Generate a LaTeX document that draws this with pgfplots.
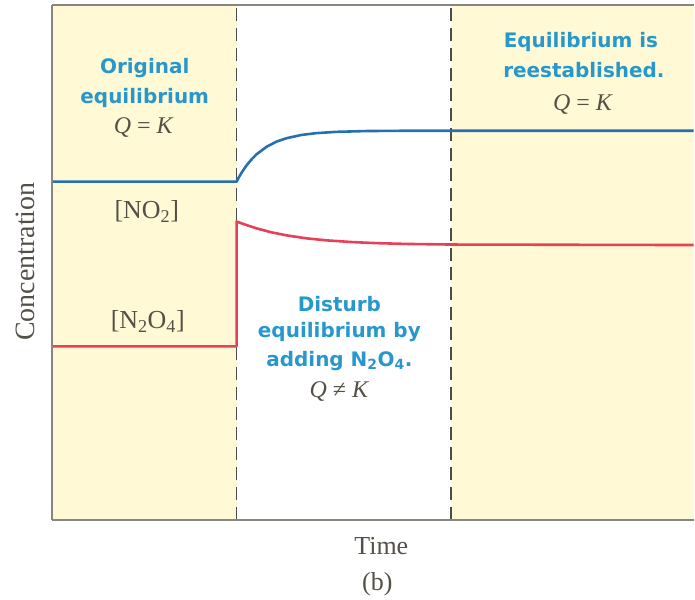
\documentclass[border=0pt]{standalone}
\usepackage{fontspec}
\setmainfont{Liberation Serif}
\newfontfamily\annofont{DejaVu Sans}
\usepackage{pgfplots}
\pgfplotsset{compat=1.18}
\usetikzlibrary{calc}

\definecolor{eqfill}{RGB}{255,249,214}
\definecolor{noblue}{RGB}{38,112,178}
\definecolor{nored}{RGB}{232,64,88}
\definecolor{annoblue}{RGB}{40,152,204}
\definecolor{labgray}{RGB}{85,80,70}
\definecolor{axgray}{RGB}{135,135,128}
\definecolor{dashgray}{RGB}{75,75,75}

% concentrations (arbitrary units)
\pgfplotstableread{
x    y
0    339
185  339
187.5 343.7
190  347.9
195  355.3
200  361.3
205  366.4
215  373.9
225  379.1
235  382.5
250  385.8
265  387.6
285  388.9
315  389.7
355  390
643  390
}\nodata
\pgfplotstableread{
x    y
0    174
185  174
185  299
195  295.5
205  292.2
220  288.2
235  285.2
255  282.2
275  280.2
300  278.5
325  277.4
355  276.6
400  276
643  275.5
}\ntodata

\tikzset{
  anno/.style={font=\annofont\bfseries\fontsize{20}{22}\selectfont, text=annoblue, anchor=center, inner sep=0pt},
  lab/.style={font=\fontsize{26}{28}\selectfont, text=labgray, anchor=center, inner sep=0pt},
}

\begin{document}
\begin{tikzpicture}
\begin{axis}[
    scale only axis,
    width=643pt, height=516pt,
    xmin=0, xmax=643, ymin=0, ymax=516,
    axis x line=box, axis y line=left,
    axis line style={-, draw=axgray, line width=2pt},
    axis on top,
    clip=false,
    xtick=\empty, ytick=\empty,
]
% shaded equilibrium regions
\addplot[fill=eqfill, draw=none] coordinates {(0,516) (185,516)} \closedcycle;
\addplot[fill=eqfill, draw=none] coordinates {(400,516) (643,516)} \closedcycle;

% boundaries
\addplot[dashgray, line width=1.7pt, dash pattern=on 13pt off 7pt]
    coordinates {(185,0) (185,516)};
\addplot[dashgray, line width=1.7pt, dash pattern=on 13pt off 7pt]
    coordinates {(400,0) (400,516)};

\addplot[noblue, line width=2.6pt, line join=round] table[x=x, y=y] {\nodata};
\addplot[nored, line width=2.6pt, line join=round] table[x=x, y=y] {\ntodata};

\node[anno] at (axis cs:93,453) {Original};
\node[anno] at (axis cs:93,423) {equilibrium};
\node[lab, font=\fontsize{24}{26}\selectfont] at (axis cs:92,393) {\textit{Q} = \textit{K}};

\node[anno] at (axis cs:530,479) {Equilibrium is};
\node[anno] at (axis cs:533,451) {reestablished.};
\node[lab, font=\fontsize{24}{26}\selectfont] at (axis cs:532,416) {\textit{Q} = \textit{K}};

\node[anno] at (axis cs:288,216) {Disturb};
\node[anno] at (axis cs:288,188) {equilibrium by};
\node[anno] at (axis cs:288,159) {adding N\textsubscript{2}O\textsubscript{4}.};
\node[lab, font=\fontsize{24}{26}\selectfont] at (axis cs:288,129) {\textit{Q} ≠ \textit{K}};

\node[lab] at (axis cs:95,309) {[NO\textsubscript{2}]};
\node[lab] at (axis cs:96,199) {[N\textsubscript{2}O\textsubscript{4}]};

\node[lab] at (axis cs:330,-26) {Time};
\node[lab] at (axis cs:326,-64) {(b)};
\node[lab, font=\fontsize{28}{30}\selectfont, rotate=90] at (axis cs:-27,259) {Concentration};
\end{axis}
\path ($(current axis.south west)+(-52pt,-80pt)$) rectangle ($(current axis.north east)+(0pt,5pt)$);
\end{tikzpicture}
\end{document}
